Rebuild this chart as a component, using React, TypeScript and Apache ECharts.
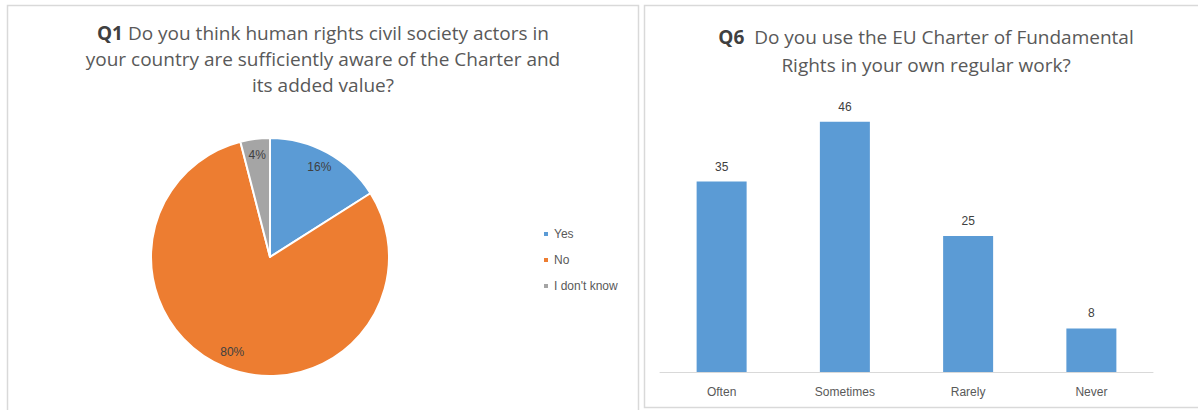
import React, { useEffect, useRef } from "react";
import * as echarts from "echarts";

const pieNames = ["Yes", "No", "I don't know"];
const pieValues = [16, 80, 4];
const pieColors = ["#5B9BD5", "#ED7D31", "#A5A5A5"];

const barCategories = ["Often", "Sometimes", "Rarely", "Never"];
const barValues = [35, 46, 25, 8];

const FONT = "Liberation Sans";
const TFONT = "Open Sans";

export default function App() {
  const ref = useRef<HTMLDivElement>(null);
  useEffect(() => {
    const chart = echarts.init(ref.current!, null, { renderer: "svg" });
    const pieData = pieNames.map((n, i) => ({
      name: n,
      value: pieValues[i],
      itemStyle: { color: pieColors[i] },
    }));
    chart.setOption({
      animation: false,
      textStyle: { fontFamily: FONT },
      graphic: [
        {
          type: "rect",
          shape: { x: 7.5, y: 5.5, width: 631, height: 420 },
          style: { fill: "none", stroke: "#d9d9d9", lineWidth: 1.5 },
          silent: true,
        },
        {
          type: "rect",
          shape: { x: 644.5, y: 5.5, width: 570, height: 402 },
          style: { fill: "none", stroke: "#d9d9d9", lineWidth: 1.5 },
          silent: true,
        },
      ],
      title: [
        {
          text:
            "{b|Q1} Do you think human rights civil society actors in\nyour country are sufficiently aware of the Charter and\nits added value?",
          left: 318,
          top: 15,
          textAlign: "center",
          textStyle: {
            fontFamily: TFONT,
            fontSize: 19,
            fontWeight: "normal",
            color: "#595959",
            lineHeight: 26,
            align: "center",
            rich: {
              b: { fontFamily: TFONT, fontSize: 19, fontWeight: "bold", color: "#404040", lineHeight: 26 },
            },
          },
        },
        {
          text: "{b|Q6}  Do you use the EU Charter of Fundamental\nRights in your own regular work?",
          left: 921,
          top: 18,
          textAlign: "center",
          textStyle: {
            fontFamily: TFONT,
            fontSize: 19,
            fontWeight: "normal",
            color: "#595959",
            lineHeight: 28,
            align: "center",
            rich: {
              b: { fontFamily: TFONT, fontSize: 19, fontWeight: "bold", color: "#404040", lineHeight: 28 },
            },
          },
        },
      ],
      legend: {
        data: pieNames,
        orient: "vertical",
        left: 537,
        top: 223,
        icon: "rect",
        itemWidth: 6,
        itemHeight: 6,
        itemGap: 14,
        textStyle: { fontFamily: FONT, fontSize: 12, color: "#595959" },
      },
      grid: { left: 660, width: 493, top: 100, height: 272 },
      xAxis: {
        type: "category",
        data: barCategories,
        axisLine: { lineStyle: { color: "#d9d9d9" } },
        axisTick: { show: false },
        axisLabel: { fontFamily: FONT, fontSize: 12, color: "#595959", margin: 14 },
      },
      yAxis: {
        type: "value",
        min: 0,
        max: 50,
        show: false,
        splitLine: { show: false },
      },
      series: [
        {
          type: "pie",
          center: [270, 257],
          radius: 119,
          startAngle: 90,
          clockwise: true,
          data: pieData,
          label: { show: false },
          labelLine: { show: false },
          itemStyle: { borderColor: "#ffffff", borderWidth: 2 },
          silent: true,
        },
        {
          type: "pie",
          center: [270, 257],
          radius: [80, 119],
          startAngle: 90,
          clockwise: true,
          data: pieNames.map((n, i) => ({ name: n, value: pieValues[i], itemStyle: { color: "rgba(0,0,0,0)" } })),
          label: {
            show: true,
            position: "inside",
            formatter: "{c}%",
            fontFamily: FONT,
            fontSize: 12,
            color: "#404040",
          },
          labelLine: { show: false },
          silent: true,
        },
        {
          type: "bar",
          data: barValues,
          barWidth: 50,
          itemStyle: { color: "#5B9BD5" },
          label: {
            show: true,
            position: "top",
            distance: 9,
            fontFamily: FONT,
            fontSize: 12,
            color: "#404040",
          },
          silent: true,
        },
      ],
    });
    return () => chart.dispose();
  }, []);
  return (
    <div
      ref={ref}
      style={{ position: "fixed", left: 0, top: 0, width: 1198, height: 410, background: "#fff" }}
    />
  );
}
